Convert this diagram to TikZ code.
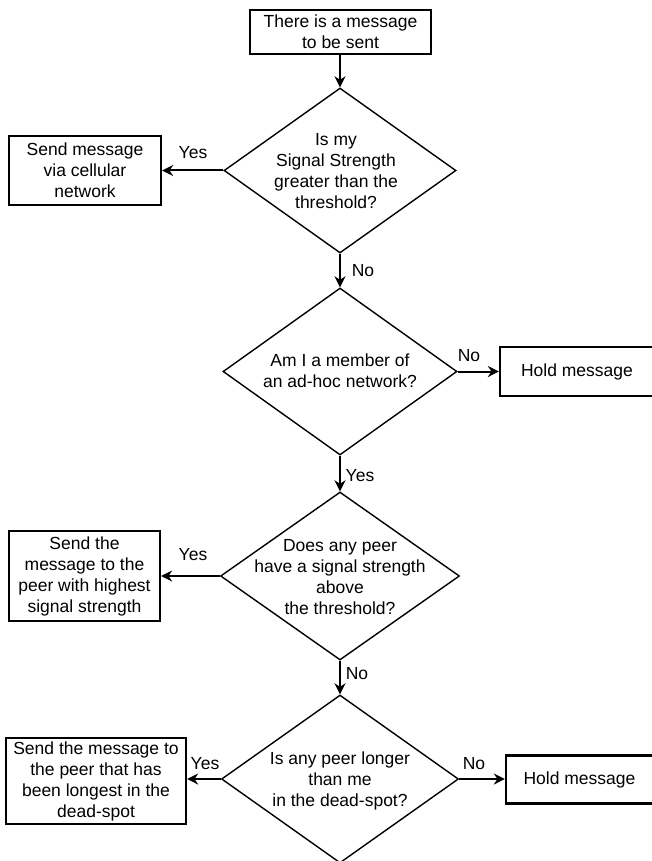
\documentclass[tikz,border=0pt]{standalone}
\usepackage{fontspec}
\setmainfont{Liberation Sans}
\usetikzlibrary{shapes.geometric,arrows.meta}
\begin{document}
\begin{tikzpicture}[x=1pt,y=-1pt,
  every node/.style={font=\fontsize{17.5}{21}\selectfont},
  procbox/.style={draw, line width=2.2pt, rectangle, inner sep=0pt, align=center},
  decision/.style={draw, line width=1.4pt, diamond, inner sep=0pt},
  dtext/.style={align=center, inner sep=0pt},
  lbl/.style={inner sep=0pt},
  arr/.style={line width=2pt, -{Stealth[length=11pt,width=11pt,inset=3.5pt]}}
]
\useasboundingbox (0,0) rectangle (652,861);
\clip (0,0) rectangle (652,861);

% start
\node[procbox, minimum width=181pt, minimum height=44pt] (start) at (340.5,32) {There is a message\\to be sent};

% decision 1
\node[decision, minimum width=232pt, minimum height=165pt] (q1) at (340,170.5) {};
\node[dtext] (q1t) at (336,171) {Is my\\Signal Strength\\greater than the\\threshold?};
\node[procbox, minimum width=152pt, minimum height=69pt] (a1) at (85,170.5) {Send message\\via cellular\\network};

% decision 2
\node[decision, minimum width=234pt, minimum height=167pt] (q2) at (340,371.5) {};
\node[dtext] (q2t) at (340,371) {Am I a member of\\an ad-hoc network?};
\node[procbox, minimum width=154pt, minimum height=49pt] (h1) at (577,371.5) {Hold message};

% decision 3
\node[decision, minimum width=239pt, minimum height=168pt] (q3) at (340,576) {};
\node[dtext] (q3t) at (340,577) {Does any peer\\have a signal strength\\above\\the threshold?};
\node[procbox, minimum width=151pt, minimum height=90pt] (a3) at (84.5,576) {Send the\\message to the\\peer with highest\\signal strength};

% decision 4
\node[decision, minimum width=237pt, minimum height=168pt] (q4) at (340,779) {};
\node[dtext] (q4t) at (340,781) {Is any peer longer\\than me\\in the dead-spot?};
\node[procbox, minimum width=147pt, minimum height=48pt] (h2) at (579.5,779.5) {Hold message};
\node[procbox, minimum width=180pt, minimum height=86pt] (a4) at (96,781) {Send the message to\\the peer that has\\been longest in the\\dead-spot};

% connectors
\draw[arr] (start.south -| q1.north) -- (q1.north);
\draw[arr] (q1.west) -- (q1.west -| a1.east);
\draw[arr] (q1.south) -- (q2.north);
\draw[arr] (q2.east) -- (q2.east -| h1.west);
\draw[arr] (q2.south) -- (q3.north);
\draw[arr] (q3.west) -- (q3.west -| a3.east);
\draw[arr] (q3.south) -- (q4.north);
\draw[arr] (q4.east) -- (q4.east -| h2.west);
\draw[arr] (q4.west) -- (q4.west -| a4.east);

% labels
\node[lbl] (l1) at (193,153) {Yes};
\node[lbl] (l2) at (363,271) {No};
\node[lbl] (l3) at (469,356) {No};
\node[lbl] (l4) at (360,476) {Yes};
\node[lbl] (l5) at (193,555) {Yes};
\node[lbl] (l6) at (357,674) {No};
\node[lbl] (l7) at (205,764) {Yes};
\node[lbl] (l8) at (474,764) {No};
\end{tikzpicture}
\end{document}
